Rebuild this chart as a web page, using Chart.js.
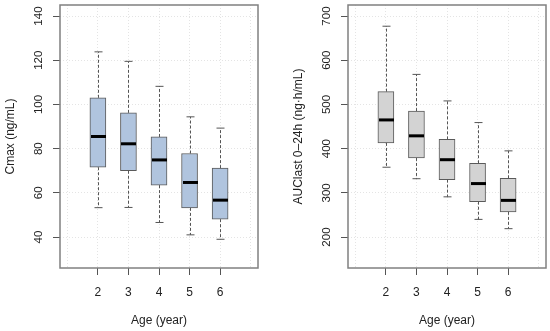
<!DOCTYPE html>
<html><head><meta charset="utf-8">
<script src="https://cdn.jsdelivr.net/npm/chart.js@4/dist/chart.umd.min.js"></script>
<style>
html,body{margin:0;padding:0;background:#fff;}
#wrap{position:relative;width:550px;height:331px;overflow:hidden;}
.panel{position:absolute;top:0;width:275px;height:331px;}
</style></head><body>
<div id="wrap">
<div class="panel" style="left:0"><canvas id="c1" width="275" height="331"></canvas></div>
<div class="panel" style="left:275px"><canvas id="c2" width="275" height="331"></canvas></div>
</div>
<script>
// ---- data ----
const ageLabels = ['2', '3', '4', '5', '6'];

const cmaxMin    = [53.3, 53.4, 46.6, 41.0, 39.0];
const cmaxQ1     = [71.6, 70.0, 63.5, 53.2, 48.1];
const cmaxMedian = [85.5, 82.2, 74.9, 64.7, 56.7];
const cmaxQ3     = [103.0, 96.2, 85.3, 77.8, 71.2];
const cmaxMax    = [123.8, 119.5, 108.2, 94.4, 89.3];
const cmaxTicks  = [40, 60, 80, 100, 120, 140];

const aucMin    = [358, 332, 291, 240, 219];
const aucQ1     = [413, 379, 330, 280, 257];
const aucMedian = [465, 429, 375, 321, 283];
const aucQ3     = [529, 485, 421, 367, 333];
const aucMax    = [677, 568, 508, 459, 395];
const aucTicks  = [200, 300, 400, 500, 600, 700];

// ---- helpers ----
const FONT = "'Liberation Sans', Arial, Helvetica, sans-serif";
const TXT = '#222';
const slots = ageLabels.map((_, i) => i + 1);
const gridSlots = [0].concat(slots, [ageLabels.length + 1]);

function line(ctx, x1, y1, x2, y2) {
  ctx.beginPath(); ctx.moveTo(x1, y1); ctx.lineTo(x2, y2); ctx.stroke();
}

const boxExtras = {
  id: 'boxExtras',
  afterDatasetsDraw(chart) {
    const ctx = chart.ctx;
    const xs = chart.scales.x, ys = chart.scales.y;
    chart.data.datasets.forEach((ds, di) => {
      const meta = chart.getDatasetMeta(di);
      meta.data.forEach((bar, i) => {
        const x = Math.round(xs.getPixelForValue(ds.data[i].x)) + 0.5;
        const w = bar.width;
        const yLo = ys.getPixelForValue(ds.data[i].y[0]);
        const yHi = ys.getPixelForValue(ds.data[i].y[1]);
        const yMin = ys.getPixelForValue(ds.whiskerMin[i]);
        const yMax = ys.getPixelForValue(ds.whiskerMax[i]);
        const yMed = ys.getPixelForValue(ds.medians[i]);
        ctx.save();
        ctx.strokeStyle = '#555';
        ctx.lineWidth = 1;
        ctx.setLineDash([3, 2]);
        line(ctx, x, yHi, x, yMax);
        line(ctx, x, yLo, x, yMin);
        ctx.setLineDash([]);
        line(ctx, x - w / 4, yMax, x + w / 4, yMax);
        line(ctx, x - w / 4, yMin, x + w / 4, yMin);
        ctx.strokeStyle = '#000';
        ctx.lineWidth = 3;
        line(ctx, x - w / 2 + 0.5, yMed, x + w / 2 - 0.5, yMed);
        ctx.restore();
      });
    });
  }
};

const frame = {
  id: 'frame',
  afterDraw(chart) {
    const a = chart.chartArea, ctx = chart.ctx;
    ctx.save();
    ctx.strokeStyle = '#808080';
    ctx.lineWidth = 1.5;
    ctx.strokeRect(a.left, a.top, a.right - a.left, a.bottom - a.top);
    ctx.restore();
  }
};

function makeChart(id, cfg) {
  const data = slots.map((s, i) => ({ x: s, y: [cfg.q1[i], cfg.q3[i]] }));
  return new Chart(document.getElementById(id), {
    type: 'bar',
    data: {
      datasets: [{
        data: data,
        whiskerMin: cfg.min,
        whiskerMax: cfg.max,
        medians: cfg.median,
        backgroundColor: cfg.fill,
        borderColor: '#5a5a5a',
        borderWidth: 1,
        borderSkipped: false,
        barThickness: 16
      }]
    },
    options: {
      responsive: false,
      animation: false,
      events: [],
      layout: { padding: { top: 5, right: cfg.padRight, left: 0, bottom: 0 } },
      plugins: { legend: { display: false }, tooltip: { enabled: false } },
      scales: {
        x: {
          type: 'linear',
          offset: false,
          min: -0.24, max: ageLabels.length + 1.24,
          afterBuildTicks: s => { s.ticks = gridSlots.map(v => ({ value: v })); },
          afterFit: s => { s.height = 63; s.paddingLeft = 0; s.paddingRight = 0; },
          ticks: {
            autoSkip: false, maxRotation: 0, minRotation: 0, padding: 10,
            callback: v => (v >= 1 && v <= ageLabels.length) ? ageLabels[v - 1] : '',
            font: { family: FONT, size: 12 }, color: TXT
          },
          grid: {
            offset: false,
            color: '#e4e4e4', lineWidth: 1, tickLength: 7, tickWidth: 1,
            tickColor: c => (c.tick && c.tick.value >= 1 && c.tick.value <= ageLabels.length) ? '#555' : 'rgba(0,0,0,0)'
          },
          border: { display: false, dash: [1, 2] },
          title: {
            display: true, text: 'Age (year)', color: TXT,
            font: { family: FONT, size: 12 }, padding: { top: 0, bottom: 3 }
          }
        },
        y: {
          min: cfg.yMin, max: cfg.yMax,
          afterBuildTicks: s => { s.ticks = cfg.ticks.map(v => ({ value: v })); },
          afterFit: s => { s.width = cfg.axisWidth; s.paddingTop = 0; s.paddingBottom = 0; },
          ticks: {
            autoSkip: false, minRotation: 90, maxRotation: 90, crossAlign: 'center', padding: 5,
            font: { family: FONT, size: 11.5 }, color: TXT
          },
          grid: { color: '#e4e4e4', lineWidth: 1, tickLength: 7, tickWidth: 1, tickColor: '#555' },
          border: { display: false, dash: [1, 2] },
          title: {
            display: true, text: cfg.title, color: TXT,
            font: { family: FONT, size: 12 }, padding: { top: cfg.titlePad, bottom: 0 }
          }
        }
      }
    },
    plugins: [boxExtras, frame]
  });
}

makeChart('c1', {
  min: cmaxMin, q1: cmaxQ1, median: cmaxMedian, q3: cmaxQ3, max: cmaxMax,
  ticks: cmaxTicks, yMin: 26, yMax: 145,
  fill: '#b0c4de', title: 'Cmax (ng/mL)', axisWidth: 60, padRight: 17, titlePad: 3
});
makeChart('c2', {
  min: aucMin, q1: aucQ1, median: aucMedian, q3: aucQ3, max: aucMax,
  ticks: aucTicks, yMin: 130, yMax: 725,
  fill: '#d3d3d3', title: 'AUClast 0\u201324h (ng\u00b7h/mL)', axisWidth: 73, padRight: 4, titlePad: 16
});
</script>
</body></html>
